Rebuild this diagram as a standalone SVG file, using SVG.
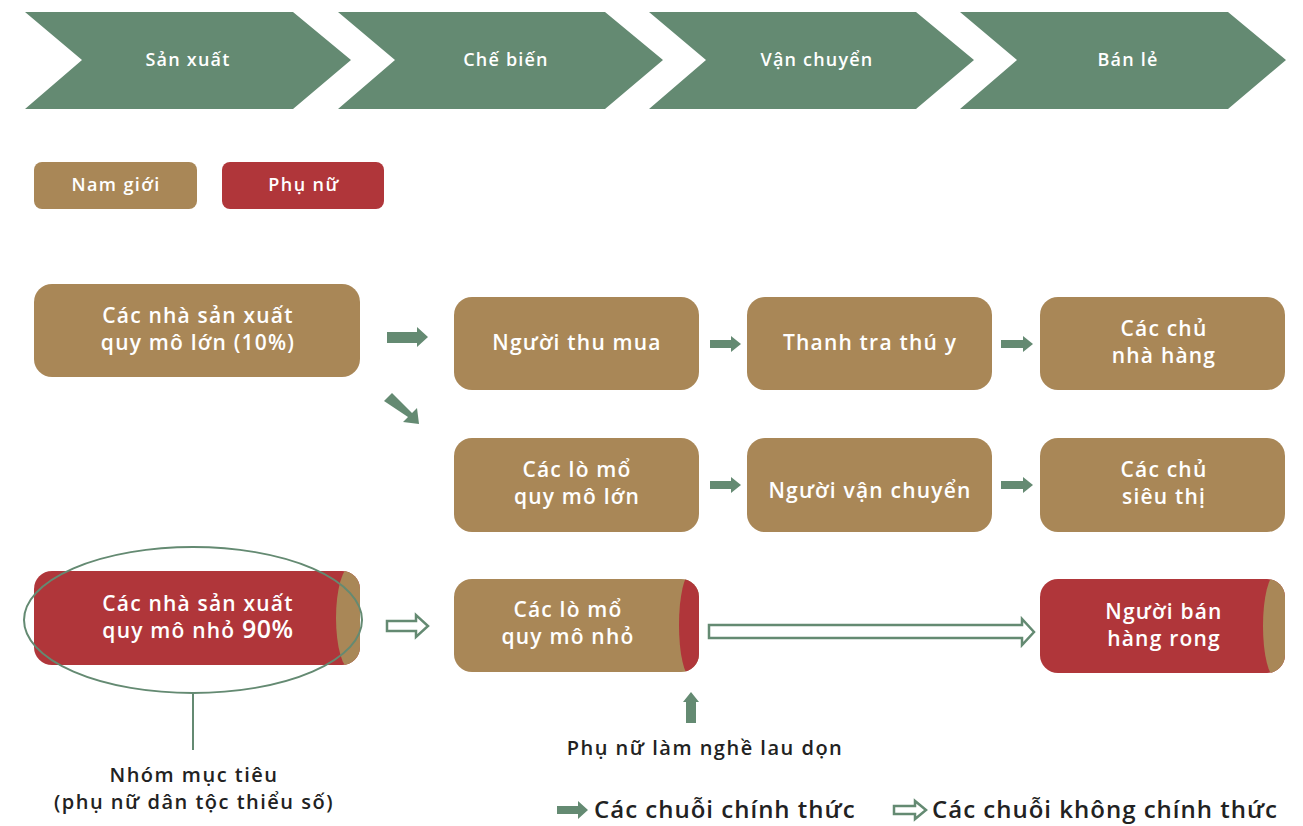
<svg xmlns="http://www.w3.org/2000/svg" width="1303" height="826" viewBox="0 0 1303 826">
<style>
.chev{fill:#648a72}
.tan{fill:#a98757}
.red{fill:#b0363a}
.g{fill:#648a72}
.ho{fill:#fff;stroke:#648a72;stroke-width:2.5}
text{font-family:"Open Sans","Noto Sans","DejaVu Sans",sans-serif}
.ct{fill:#fff;font-size:18px;font-weight:600;text-anchor:middle;letter-spacing:1.2px}
.nt{fill:#fff;font-size:21px;font-weight:600;text-anchor:middle;letter-spacing:1.2px}
.lt{fill:#fff;font-size:18px;font-weight:600;text-anchor:middle;letter-spacing:1.4px}
.dt{fill:#222;font-size:20px;font-weight:600;text-anchor:middle;letter-spacing:1.5px}
.bt{fill:#222;font-size:24px;font-weight:600;letter-spacing:1px}
.big{font-size:25px;letter-spacing:0.5px}
</style>
<defs>
<clipPath id="c1"><rect x="34" y="571" width="326" height="94" rx="18"/></clipPath>
<clipPath id="c2"><rect x="454" y="579" width="245" height="93" rx="18"/></clipPath>
<clipPath id="c3"><rect x="1040" y="579" width="245" height="94" rx="18"/></clipPath>
</defs>
<g id="stages">
<g id="stage1"><polygon class="chev" points="25,12 293,12 351,60 293,109 25,109 82,60"/><text class="ct" x="188" y="66">Sản xuất</text></g>
<g id="stage2"><polygon class="chev" points="338,12 605,12 663,60 605,109 338,109 395,60"/><text class="ct" x="506" y="66">Chế biến</text></g>
<g id="stage3"><polygon class="chev" points="649,12 916,12 974,60 916,109 649,109 706,60"/><text class="ct" x="817" y="66">Vận chuyển</text></g>
<g id="stage4"><polygon class="chev" points="960,12 1228,12 1286,60 1228,109 960,109 1017,60"/><text class="ct" x="1128" y="66">Bán lẻ</text></g>
</g>
<g id="legend-men"><rect class="tan" x="34" y="162" width="163" height="47" rx="8"/><text class="lt" x="116" y="191">Nam giới</text></g>
<g id="legend-women"><rect class="red" x="222" y="162" width="162" height="47" rx="8"/><text class="lt" x="304" y="191">Phụ nữ</text></g>

<g id="large-producers"><rect class="tan" x="34" y="284" width="326" height="93" rx="18"/><text class="nt" x="198" y="323">Các nhà sản xuất</text><text class="nt" x="198" y="350">quy mô lớn (10%)</text></g>
<g id="collectors"><rect class="tan" x="454" y="297" width="245" height="93" rx="18"/><text class="nt" x="577" y="350">Người thu mua</text></g>
<g id="vet"><rect class="tan" x="747" y="297" width="245" height="93" rx="18"/><text class="nt" x="870" y="350">Thanh tra thú y</text></g>
<g id="restaurants"><rect class="tan" x="1040" y="297" width="245" height="93" rx="18"/><text class="nt" x="1164" y="336">Các chủ</text><text class="nt" x="1164" y="363">nhà hàng</text></g>
<g id="large-slaughter"><rect class="tan" x="454" y="438" width="245" height="94" rx="18"/><text class="nt" x="577" y="477">Các lò mổ</text><text class="nt" x="577" y="504">quy mô lớn</text></g>
<g id="transporters"><rect class="tan" x="747" y="438" width="245" height="94" rx="18"/><text class="nt" x="870" y="498">Người vận chuyển</text></g>
<g id="supermarkets"><rect class="tan" x="1040" y="438" width="245" height="94" rx="18"/><text class="nt" x="1164" y="477">Các chủ</text><text class="nt" x="1164" y="504">siêu thị</text></g>
<g id="small-producers"><g clip-path="url(#c1)"><rect class="red" x="34" y="571" width="326" height="94"/><ellipse class="tan" cx="351" cy="618" rx="15" ry="52"/></g><text class="nt" x="198" y="611">Các nhà sản xuất</text><text class="nt" x="198" y="638">quy mô nhỏ <tspan class="big">90%</tspan></text></g>
<g id="small-slaughter"><g clip-path="url(#c2)"><rect class="tan" x="454" y="579" width="245" height="93"/><ellipse class="red" cx="691" cy="625" rx="12" ry="52"/></g><text class="nt" x="568" y="617">Các lò mổ</text><text class="nt" x="568" y="644">quy mô nhỏ</text></g>
<g id="street-vendors"><g clip-path="url(#c3)"><rect class="red" x="1040" y="579" width="245" height="94"/><ellipse class="tan" cx="1276" cy="626" rx="13" ry="52"/></g><text class="nt" x="1164" y="619">Người bán</text><text class="nt" x="1164" y="646">hàng rong</text></g>

<g id="target-group"><ellipse cx="193" cy="620" rx="169" ry="73" fill="none" stroke="#648a72" stroke-width="2"/><line x1="193" y1="693" x2="193" y2="750" stroke="#648a72" stroke-width="2"/><text class="dt" x="194" y="782">Nhóm mục tiêu</text><text class="dt" x="194" y="809">(phụ nữ dân tộc thiểu số)</text></g>
<g id="cleaners"><text class="dt" x="705" y="755">Phụ nữ làm nghề lau dọn</text></g>

<g id="connectors">
<polygon class="g" points="387,332 417,332 417,327 428,337 417,347 417,343 387,343"/>
<polygon class="g" points="384,401 392,393 412,413 417,408 419,424 403,422 408,417"/>
<polygon class="g" points="710,340 731,340 731,336 741,344 731,352 731,348 710,348"/>
<polygon class="g" points="1001,340 1023,340 1023,336 1033,344 1023,352 1023,348 1001,348"/>
<polygon class="g" points="710,481 731,481 731,477 741,485 731,493 731,489 710,489"/>
<polygon class="g" points="1001,481 1023,481 1023,477 1033,485 1023,493 1023,489 1001,489"/>
<polygon class="ho" points="387,621 416,621 416,615 428,626 416,637 416,631 387,631"/>
<polygon class="ho" points="709,625 1022,625 1022,619 1034,632 1022,645 1022,638 709,638"/>
<polygon class="g" points="686,723 686,702 683,702 691,692 699,702 696,702 696,723"/>
</g>
<g id="legend-chains">
<polygon class="g" points="557,806 578,806 578,801 588,810 578,819 578,814 557,814"/>
<text class="bt" x="594" y="818">Các chuỗi chính thức</text>
<polygon class="ho" points="894,806 915,806 915,801 926,810 915,819 915,814 894,814"/>
<text class="bt" x="932" y="818">Các chuỗi không chính thức</text>
</g>
</svg>
